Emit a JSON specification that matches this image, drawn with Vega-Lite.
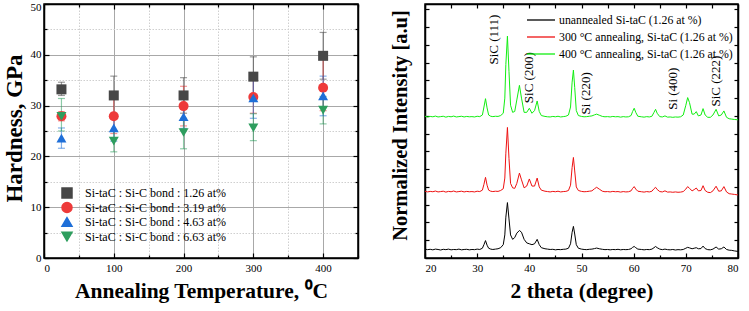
{
  "$schema": "https://vega.github.io/schema/vega-lite/v6.json",
  "padding": {"left": 2, "top": 0, "right": 5, "bottom": 0},
  "spacing": 29,
  "resolve": {"scale": {"color": "independent", "shape": "independent"}, "legend": {"color": "independent", "shape": "independent"}},
  "config": {
    "font": "Liberation Serif",
    "view": {"stroke": "black", "strokeWidth": 1.5},
    "axis": {
      "labelFont": "Liberation Serif", "labelFontSize": 11, "labelColor": "black",
      "titleFont": "Liberation Serif", "titleFontSize": 22, "titleFontWeight": "bold", "titleColor": "black",
      "domainColor": "black", "domainWidth": 1.5, "tickColor": "black", "tickWidth": 1.2
    },
    "legend": {"labelFont": "Liberation Serif", "labelColor": "black"}
  },
  "datasets": {
    "hard": [
      {"s": "Si-taC : Si-C bond : 1.26 at%", "T": 25, "H": 33.2, "lo": 32.0, "hi": 34.6},
      {"s": "Si-taC : Si-C bond : 1.26 at%", "T": 100, "H": 32.0, "lo": 28.5, "hi": 35.8},
      {"s": "Si-taC : Si-C bond : 1.26 at%", "T": 200, "H": 32.0, "lo": 28.5, "hi": 35.5},
      {"s": "Si-taC : Si-C bond : 1.26 at%", "T": 300, "H": 35.7, "lo": 31.8, "hi": 39.6},
      {"s": "Si-taC : Si-C bond : 1.26 at%", "T": 400, "H": 39.8, "lo": 35.2, "hi": 44.4},
      {"s": "Si-taC : Si-C bond : 3.19 at%", "T": 25, "H": 27.9, "lo": 27.0, "hi": 28.8},
      {"s": "Si-taC : Si-C bond : 3.19 at%", "T": 100, "H": 27.9, "lo": 24.5, "hi": 31.3},
      {"s": "Si-taC : Si-C bond : 3.19 at%", "T": 200, "H": 29.9, "lo": 26.0, "hi": 33.8},
      {"s": "Si-taC : Si-C bond : 3.19 at%", "T": 300, "H": 31.7, "lo": 28.5, "hi": 35.0},
      {"s": "Si-taC : Si-C bond : 3.19 at%", "T": 400, "H": 33.5, "lo": 29.0, "hi": 39.5},
      {"s": "Si-taC : Si-C bond : 4.63 at%", "T": 25, "H": 23.6, "lo": 21.6, "hi": 25.6},
      {"s": "Si-taC : Si-C bond : 4.63 at%", "T": 100, "H": 25.6, "lo": 23.0, "hi": 28.0},
      {"s": "Si-taC : Si-C bond : 4.63 at%", "T": 200, "H": 27.8, "lo": 25.5, "hi": 30.2},
      {"s": "Si-taC : Si-C bond : 4.63 at%", "T": 300, "H": 31.5, "lo": 27.5, "hi": 35.5},
      {"s": "Si-taC : Si-C bond : 4.63 at%", "T": 400, "H": 31.9, "lo": 28.0, "hi": 35.8},
      {"s": "Si-taC : Si-C bond : 6.63 at%", "T": 25, "H": 27.9, "lo": 25.0, "hi": 31.4},
      {"s": "Si-taC : Si-C bond : 6.63 at%", "T": 100, "H": 23.0, "lo": 20.9, "hi": 25.1},
      {"s": "Si-taC : Si-C bond : 6.63 at%", "T": 200, "H": 24.7, "lo": 21.5, "hi": 27.5},
      {"s": "Si-taC : Si-C bond : 6.63 at%", "T": 300, "H": 25.6, "lo": 23.1, "hi": 28.4},
      {"s": "Si-taC : Si-C bond : 6.63 at%", "T": 400, "H": 29.1, "lo": 26.4, "hi": 31.8}
    ],
    "xrd": [
      {"t":20,"b":0.50,"r":3.76,"g":7.98},
      {"t":20.5,"b":0.47,"r":3.72,"g":7.94},
      {"t":21,"b":0.49,"r":3.75,"g":7.97},
      {"t":21.5,"b":0.46,"r":3.73,"g":7.95},
      {"t":22,"b":0.50,"r":3.77,"g":7.99},
      {"t":22.5,"b":0.48,"r":3.72,"g":7.94},
      {"t":23,"b":0.45,"r":3.74,"g":7.96},
      {"t":23.5,"b":0.49,"r":3.76,"g":7.98},
      {"t":24,"b":0.47,"r":3.71,"g":7.93},
      {"t":24.5,"b":0.50,"r":3.75,"g":7.97},
      {"t":25,"b":0.46,"r":3.73,"g":7.95},
      {"t":25.5,"b":0.48,"r":3.77,"g":7.99},
      {"t":26,"b":0.47,"r":3.72,"g":7.94},
      {"t":26.5,"b":0.50,"r":3.74,"g":7.96},
      {"t":27,"b":0.46,"r":3.76,"g":7.98},
      {"t":27.5,"b":0.48,"r":3.72,"g":7.94},
      {"t":28,"b":0.49,"r":3.75,"g":7.97},
      {"t":28.5,"b":0.46,"r":3.73,"g":7.95},
      {"t":29,"b":0.48,"r":3.74,"g":7.96},
      {"t":29.5,"b":0.47,"r":3.72,"g":7.94},
      {"t":30,"b":0.50,"r":3.76,"g":7.98},
      {"t":30.5,"b":0.48,"r":3.74,"g":7.96},
      {"t":31,"b":0.55,"r":3.82,"g":8.05},
      {"t":31.3,"b":0.75,"r":4.15,"g":8.5},
      {"t":31.6,"b":0.98,"r":4.54,"g":8.97},
      {"t":31.9,"b":0.72,"r":4.1,"g":8.45},
      {"t":32.2,"b":0.55,"r":3.82,"g":8.05},
      {"t":32.6,"b":0.5,"r":3.76,"g":7.98},
      {"t":33,"b":0.48,"r":3.74,"g":7.96},
      {"t":33.5,"b":0.5,"r":3.76,"g":7.98},
      {"t":34,"b":0.52,"r":3.75,"g":7.97},
      {"t":34.5,"b":0.58,"r":3.8,"g":8.02},
      {"t":35,"b":0.75,"r":3.9,"g":8.15},
      {"t":35.3,"b":1.3,"r":4.5,"g":9.0},
      {"t":35.5,"b":2.3,"r":5.9,"g":10.9},
      {"t":35.8,"b":3.12,"r":7.35,"g":12.49},
      {"t":36.1,"b":2.2,"r":5.6,"g":10.5},
      {"t":36.4,"b":1.3,"r":4.2,"g":8.6},
      {"t":36.8,"b":1.05,"r":3.95,"g":8.2},
      {"t":37.2,"b":1.15,"r":3.92,"g":8.25},
      {"t":37.6,"b":1.4,"r":4.2,"g":8.9},
      {"t":38.1,"b":1.55,"r":4.78,"g":9.72},
      {"t":38.5,"b":1.45,"r":4.4,"g":9.0},
      {"t":39,"b":1.05,"r":3.95,"g":8.2},
      {"t":39.5,"b":0.85,"r":4.05,"g":8.2},
      {"t":40,"b":0.8,"r":4.45,"g":8.43},
      {"t":40.5,"b":0.75,"r":4.05,"g":8.15},
      {"t":41,"b":0.8,"r":4.05,"g":8.3},
      {"t":41.5,"b":1.05,"r":4.5,"g":8.84},
      {"t":41.9,"b":0.75,"r":4.0,"g":8.25},
      {"t":42.3,"b":0.58,"r":3.82,"g":8.02},
      {"t":43,"b":0.52,"r":3.76,"g":7.97},
      {"t":43.5,"b":0.5,"r":3.74,"g":7.95},
      {"t":44,"b":0.48,"r":3.72,"g":7.94},
      {"t":44.5,"b":0.49,"r":3.75,"g":7.97},
      {"t":45,"b":0.46,"r":3.73,"g":7.95},
      {"t":45.5,"b":0.48,"r":3.76,"g":7.98},
      {"t":46,"b":0.47,"r":3.72,"g":7.94},
      {"t":46.5,"b":0.49,"r":3.74,"g":7.96},
      {"t":47,"b":0.5,"r":3.75,"g":7.98},
      {"t":47.5,"b":0.55,"r":3.8,"g":8.05},
      {"t":47.9,"b":0.8,"r":4.1,"g":8.5},
      {"t":48.2,"b":1.45,"r":5.1,"g":9.9},
      {"t":48.45,"b":1.78,"r":5.66,"g":10.58},
      {"t":48.7,"b":1.35,"r":4.9,"g":9.6},
      {"t":49,"b":0.75,"r":4.0,"g":8.3},
      {"t":49.4,"b":0.55,"r":3.8,"g":8.02},
      {"t":50,"b":0.5,"r":3.75,"g":7.97},
      {"t":50.5,"b":0.48,"r":3.73,"g":7.95},
      {"t":51,"b":0.47,"r":3.74,"g":7.96},
      {"t":51.5,"b":0.49,"r":3.76,"g":7.98},
      {"t":52,"b":0.5,"r":3.78,"g":8.0},
      {"t":52.5,"b":0.53,"r":3.9,"g":8.06},
      {"t":52.9,"b":0.56,"r":3.98,"g":8.1},
      {"t":53.4,"b":0.52,"r":3.88,"g":8.04},
      {"t":54,"b":0.49,"r":3.76,"g":7.97},
      {"t":54.5,"b":0.47,"r":3.73,"g":7.95},
      {"t":55,"b":0.48,"r":3.74,"g":7.96},
      {"t":55.5,"b":0.46,"r":3.72,"g":7.94},
      {"t":56,"b":0.48,"r":3.75,"g":7.97},
      {"t":56.5,"b":0.47,"r":3.73,"g":7.95},
      {"t":57,"b":0.49,"r":3.74,"g":7.96},
      {"t":57.5,"b":0.46,"r":3.71,"g":7.93},
      {"t":58,"b":0.48,"r":3.74,"g":7.96},
      {"t":58.5,"b":0.47,"r":3.72,"g":7.94},
      {"t":59,"b":0.48,"r":3.73,"g":7.95},
      {"t":59.5,"b":0.52,"r":3.78,"g":8.02},
      {"t":59.8,"b":0.6,"r":3.92,"g":8.25},
      {"t":60.1,"b":0.65,"r":4.02,"g":8.43},
      {"t":60.4,"b":0.58,"r":3.88,"g":8.2},
      {"t":60.8,"b":0.5,"r":3.76,"g":7.98},
      {"t":61.5,"b":0.48,"r":3.73,"g":7.95},
      {"t":62,"b":0.46,"r":3.71,"g":7.93},
      {"t":62.5,"b":0.48,"r":3.74,"g":7.96},
      {"t":63,"b":0.47,"r":3.72,"g":7.94},
      {"t":63.5,"b":0.5,"r":3.76,"g":7.98},
      {"t":63.9,"b":0.58,"r":3.9,"g":8.2},
      {"t":64.2,"b":0.65,"r":3.98,"g":8.37},
      {"t":64.5,"b":0.58,"r":3.86,"g":8.15},
      {"t":65,"b":0.5,"r":3.74,"g":7.96},
      {"t":65.5,"b":0.47,"r":3.72,"g":7.94},
      {"t":66,"b":0.5,"r":3.78,"g":8.0},
      {"t":66.5,"b":0.47,"r":3.71,"g":7.93},
      {"t":67,"b":0.46,"r":3.72,"g":7.94},
      {"t":67.5,"b":0.48,"r":3.7,"g":7.92},
      {"t":68,"b":0.45,"r":3.72,"g":7.94},
      {"t":68.5,"b":0.47,"r":3.7,"g":7.93},
      {"t":69,"b":0.46,"r":3.71,"g":7.95},
      {"t":69.5,"b":0.48,"r":3.74,"g":8.05},
      {"t":70,"b":0.55,"r":3.88,"g":8.6},
      {"t":70.35,"b":0.6,"r":4.02,"g":9.03},
      {"t":70.7,"b":0.57,"r":3.92,"g":8.75},
      {"t":71.2,"b":0.52,"r":3.78,"g":8.1},
      {"t":71.6,"b":0.55,"r":3.85,"g":8.1},
      {"t":72,"b":0.58,"r":3.94,"g":8.24},
      {"t":72.4,"b":0.52,"r":3.78,"g":8.0},
      {"t":72.9,"b":0.53,"r":3.8,"g":8.05},
      {"t":73.3,"b":0.67,"r":4.07,"g":8.41},
      {"t":73.7,"b":0.53,"r":3.8,"g":8.05},
      {"t":74.2,"b":0.47,"r":3.7,"g":7.92},
      {"t":74.7,"b":0.46,"r":3.68,"g":7.92},
      {"t":75.2,"b":0.5,"r":3.78,"g":8.05},
      {"t":75.8,"b":0.62,"r":4.04,"g":8.37},
      {"t":76.3,"b":0.5,"r":3.76,"g":8.0},
      {"t":76.8,"b":0.52,"r":3.78,"g":8.05},
      {"t":77.3,"b":0.62,"r":4.02,"g":8.28},
      {"t":77.8,"b":0.48,"r":3.72,"g":7.92},
      {"t":78.3,"b":0.44,"r":3.62,"g":7.84},
      {"t":78.8,"b":0.43,"r":3.6,"g":7.82},
      {"t":79.3,"b":0.4,"r":3.58,"g":7.8},
      {"t":80,"b":0.37,"r":3.55,"g":7.78}
    ],
    "peaks": [
      {"t": 33.25, "v": 12.3, "lab": "SiC (111)"},
      {"t": 40.0, "v": 10.15, "lab": "SiC (200)"},
      {"t": 50.9, "v": 9.27, "lab": "Si (220)"},
      {"t": 67.6, "v": 9.53, "lab": "Si (400)"},
      {"t": 75.8, "v": 9.96, "lab": "SiC (222)"}
    ]
  },
  "hconcat": [
    {
      "width": 314,
      "height": 254,
      "data": {"name": "hard"},
      "resolve": {"axis": {"x": "independent", "y": "independent"}},
      "layer": [
        {
          "mark": {"type": "errorbar", "ticks": {"size": 7}, "opacity": 0.55, "thickness": 1.2},
          "encoding": {
            "x": {"field": "T", "type": "quantitative", "scale": {"domain": [0, 450], "nice": false}, "axis": null},
            "y": {"field": "lo", "type": "quantitative", "scale": {"domain": [0, 50], "nice": false}, "axis": null},
            "y2": {"field": "hi"},
            "color": {"field": "s", "type": "nominal",
              "scale": {"domain": ["Si-taC : Si-C bond : 1.26 at%", "Si-taC : Si-C bond : 3.19 at%", "Si-taC : Si-C bond : 4.63 at%", "Si-taC : Si-C bond : 6.63 at%"],
                        "range": ["#474747", "#ee3a3a", "#1f6fd8", "#2e9e5e"]},
              "legend": {"orient": "none", "legendX": 17, "legendY": 183, "title": null, "symbolSize": 100, "labelFontSize": 12, "rowPadding": -1.5, "labelOffset": 12, "symbolOpacity": 1}}
          }
        },
        {
          "mark": {"type": "point", "filled": true, "size": 100, "opacity": 1},
          "encoding": {
            "x": {"field": "T", "type": "quantitative",
              "axis": {"values": [0, 50, 100, 150, 200, 250, 300, 350, 400, 450],
                "labelExpr": "datum.value % 100 === 0 ? datum.label : ''",
                "tickSize": {"condition": {"test": "datum.value % 100 === 0", "value": -5}, "value": -3},
                "labelPadding": 9,
                "grid": true,
                "gridColor": {"condition": {"test": "datum.value % 100 === 0", "value": "#a8a8a8"}, "value": "#cfcfcf"},
                "gridDash": {"condition": {"test": "datum.value % 100 === 0", "value": []}, "value": [1.5, 1.5]},
                "gridWidth": 1,
                "title": "Annealing Temperature, ⁰C", "titleFontSize": 21.5, "titlePadding": 7}},
            "y": {"field": "H", "type": "quantitative",
              "axis": {"values": [0, 5, 10, 15, 20, 25, 30, 35, 40, 45, 50],
                "labelExpr": "datum.value % 10 === 0 ? datum.label : ''",
                "labelOffset": {"condition": {"test": "datum.value === 50", "value": 3}, "value": 0},
                "tickSize": {"condition": {"test": "datum.value % 10 === 0", "value": -5}, "value": -3},
                "labelPadding": 8,
                "grid": true,
                "gridColor": {"condition": {"test": "datum.value % 10 === 0", "value": "#a8a8a8"}, "value": "#cfcfcf"},
                "gridDash": {"condition": {"test": "datum.value % 10 === 0", "value": []}, "value": [1.5, 1.5]},
                "gridWidth": 1,
                "title": "Hardness, GPa", "titleFontSize": 23, "titlePadding": 4, "titleY": 124}},
            "color": {"field": "s", "type": "nominal",
              "legend": {"orient": "none", "legendX": 17, "legendY": 183, "title": null, "symbolSize": 100, "labelFontSize": 12, "rowPadding": -1.5, "labelOffset": 12, "symbolOpacity": 1}},
            "shape": {"field": "s", "type": "nominal",
              "scale": {"domain": ["Si-taC : Si-C bond : 1.26 at%", "Si-taC : Si-C bond : 3.19 at%", "Si-taC : Si-C bond : 4.63 at%", "Si-taC : Si-C bond : 6.63 at%"],
                        "range": ["square", "circle", "triangle-up", "triangle-down"]},
              "legend": {"orient": "none", "legendX": 17, "legendY": 183, "title": null, "symbolSize": 100, "labelFontSize": 12, "rowPadding": -1.5, "labelOffset": 12, "symbolOpacity": 1}}
          }
        },
        {
          "mark": {"type": "point", "opacity": 0},
          "encoding": {
            "x": {"field": "T", "type": "quantitative",
              "axis": {"orient": "top", "values": [0, 50, 100, 150, 200, 250, 300, 350, 400, 450], "labels": false, "grid": false, "title": null,
                "tickSize": {"condition": {"test": "datum.value % 100 === 0", "value": -5}, "value": -3}}},
            "y": {"field": "H", "type": "quantitative",
              "axis": {"orient": "right", "values": [0, 5, 10, 15, 20, 25, 30, 35, 40, 45, 50], "labels": false, "grid": false, "title": null,
                "tickSize": {"condition": {"test": "datum.value % 10 === 0", "value": -5}, "value": -3}}}
          }
        }
      ]
    },
    {
      "width": 313,
      "height": 254,
      "resolve": {"axis": {"x": "independent", "y": "independent"}},
      "layer": [
        {
          "data": {"name": "xrd"},
          "transform": [{"fold": ["b", "r", "g"], "as": ["s", "v"]}],
          "mark": {"type": "line", "strokeWidth": 1, "interpolate": "linear"},
          "encoding": {
            "x": {"field": "t", "type": "quantitative", "scale": {"domain": [20, 80], "nice": false},
              "axis": {"values": [20, 25, 30, 35, 40, 45, 50, 55, 60, 65, 70, 75, 80],
                "labelExpr": "datum.value % 10 === 0 ? datum.label : ''",
                "tickSize": {"condition": {"test": "datum.value % 10 === 0", "value": -5}, "value": -3},
                "labelPadding": 9, "grid": false,
                "title": "2 theta (degree)", "titleFontSize": 21.5, "titlePadding": 7}},
            "y": {"field": "v", "type": "quantitative", "scale": {"domain": [0, 14.3], "nice": false},
              "axis": {"values": [1, 2, 3, 4, 5, 6, 7, 8, 9, 10, 11, 12, 13, 14], "labels": false, "tickSize": -4, "grid": false,
                "title": "Normalized Intensity [a.u]", "titleFontSize": 20.5, "titlePadding": 14, "titleY": 121}},
            "color": {"field": "s", "type": "nominal",
              "scale": {"domain": ["b", "r", "g"], "range": ["#000000", "#ee1111", "#11ee11"]},
              "legend": {"orient": "none", "legendX": 108, "legendY": 8, "title": null, "symbolType": "M-2,0H2", "symbolSize": 196, "symbolStrokeWidth": 1.3,
                "labelFontSize": 11.8, "labelLimit": 400, "rowPadding": 2, "labelOffset": 10,
                "labelExpr": "datum.label === 'b' ? 'unannealed Si-taC (1.26 at %)' : datum.label === 'r' ? '300 °C annealing, Si-taC (1.26 at %)' : '400 °C annealing, Si-taC (1.26 at %)'"}}
          }
        },
        {
          "data": {"name": "peaks"},
          "mark": {"type": "text", "angle": 270, "fontSize": 13, "font": "Liberation Serif", "color": "black", "align": "center", "baseline": "middle"},
          "encoding": {
            "x": {"field": "t", "type": "quantitative", "axis": null},
            "y": {"field": "v", "type": "quantitative", "axis": null},
            "text": {"field": "lab"}
          }
        },
        {
          "data": {"name": "peaks"},
          "mark": {"type": "point", "opacity": 0},
          "encoding": {
            "x": {"field": "t", "type": "quantitative",
              "axis": {"orient": "top", "values": [20, 25, 30, 35, 40, 45, 50, 55, 60, 65, 70, 75, 80], "labels": false, "grid": false, "title": null, "tickSize": -4}},
            "y": {"field": "v", "type": "quantitative",
              "axis": {"orient": "right", "values": [1, 2, 3, 4, 5, 6, 7, 8, 9, 10, 11, 12, 13, 14], "labels": false, "grid": false, "title": null, "tickSize": -4}}
          }
        }
      ]
    }
  ]
}
